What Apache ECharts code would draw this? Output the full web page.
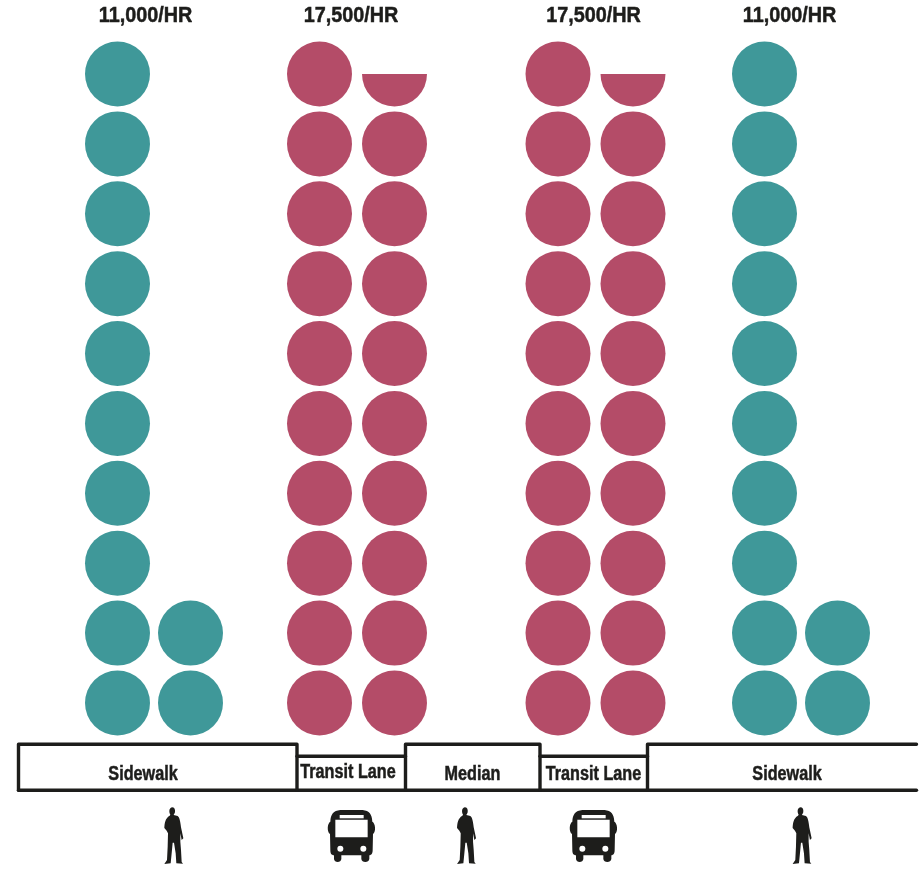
<!DOCTYPE html>
<html><head><meta charset="utf-8">
<style>html,body{margin:0;padding:0;background:#fff}#c{width:924px;height:870px}</style>
<script src="https://cdn.jsdelivr.net/npm/echarts@6/dist/echarts.min.js"></script>
</head><body><div id="c"></div>
<script>
// Data: circles in each column, bottom-up (0.5 = half circle)
const throughputLabels = ['11,000/HR','17,500/HR','17,500/HR','11,000/HR'];
const sidewalkLeftCounts = [10, 2];
const transitLeftCounts = [10, 9.5];
const transitRightCounts = [10, 9.5];
const sidewalkRightCounts = [10, 2];
const streetLabels = ['Sidewalk','Transit Lane','Median','Transit Lane','Sidewalk'];

const TEAL='#3f9899', ROSE='#b44c68', INK='#1d1d1b';
const FONT='"Liberation Sans",sans-serif';
const groups=[
 {counts:sidewalkLeftCounts,xs:[117.5,190.5],color:TEAL,labelX:145.5},
 {counts:transitLeftCounts,xs:[319.5,394.5],color:ROSE,labelX:351},
 {counts:transitRightCounts,xs:[558,633],color:ROSE,labelX:593.5},
 {counts:sidewalkRightCounts,xs:[764.5,837.5],color:TEAL,labelX:789.5}
];
function build(g){
 const out=[];
 g.counts.forEach((n,c)=>{
  for(let r=0;r<Math.ceil(n);r++){ out.push([g.xs[c],r,Math.min(1,n-r)]); }
 });
 return out;
}
const R=32.5;
function renderCircle(params,api){
 const p=api.coord([api.value(0),api.value(1)]);
 const frac=api.value(2);
 const color=api.visual('color');
 if(frac>=1) return {type:'circle',shape:{cx:p[0],cy:p[1],r:R},style:{fill:color}};
 return {type:'sector',shape:{cx:p[0],cy:p[1],r:R,r0:0,startAngle:0,endAngle:Math.PI,clockwise:true},style:{fill:color}};
}
// street profile
const T=744.3,S=756.3,B=790.3;
const xL=18.5,x1=297,x2=405.5,x3=540,x4=647.5,xR=916.5;
const line=(pts)=>({type:'polyline',shape:{points:pts},style:{stroke:INK,lineWidth:3.4,fill:null,lineJoin:'round',lineCap:'round'},silent:true});
const streetCenters=[[143,774.5],[348,772.8],[472.5,774.5],[593.5,774.5],[787,774.5]];
const gfx=[
 line([[xL,B],[xL,T],[x1,T],[x1,S],[x2,S],[x2,T],[x3,T],[x3,S],[x4,S],[x4,T],[xR,T]]),
 line([[xL,B],[xR,B]]),
 line([[x1,S],[x1,B]]),line([[x2,S],[x2,B]]),line([[x3,S],[x3,B]]),line([[x4,S],[x4,B]])
];
streetLabels.forEach((t,i)=>gfx.push({type:'text',x:streetCenters[i][0],y:streetCenters[i][1],scaleX:.83,
 style:{text:t,fill:INK,stroke:INK,lineWidth:.5,font:'bold 19.5px '+FONT,align:'center',verticalAlign:'middle'}}));
groups.forEach((g,i)=>gfx.push({type:'text',x:g.labelX,y:16,scaleX:.9,
 style:{text:throughputLabels[i],fill:INK,stroke:INK,lineWidth:.5,font:'bold 22px '+FONT,align:'center',verticalAlign:'middle'}}));

const personPath='M51 22C58 22 61 28 60 35C60 39 57 42 56 45L68 48C74 52 76 66 78 82L85 115L80 120L76 100L76 125L78 150L80 186L84 191L64 190L62 160L57 128L53 128L50 160L47 190L28 192L36 180L38 140L39 100L35 92L28 84C29 70 30 55 44 47L46 44C42 38 41 24 51 22Z';
const busBody='M55 15L122 15C142 17 150 28 151 50C160 54 163 80 153 87L152 135C152 146 148 150 142 151L142 162C141 174 119 174 118 162L118 151L58 151L58 162C57 174 37 174 36 162L36 151C28 150 25 146 25 135L24 87C14 80 16 54 25 50C26 28 34 17 55 15Z';
function renderIcon(params,api){
 const x=api.value(0), y=api.value(1), kind=api.value(2);
 if(kind===0) return {type:'path',x:x,y:y,scaleX:1/3,scaleY:1/3,
   shape:{pathData:personPath},style:{fill:INK}};
 return {type:'group',x:x,y:y,scaleX:1/3,scaleY:1/3,children:[
  {type:'path',shape:{pathData:busBody},style:{fill:INK}},
  {type:'rect',shape:{x:53,y:30,width:72,height:10},style:{fill:'#fff'}},
  {type:'rect',shape:{x:40,y:44,width:97,height:53},style:{fill:'#fff'}},
  {type:'circle',shape:{cx:55,cy:131,r:9},style:{fill:'#fff'}},
  {type:'circle',shape:{cx:124,cy:131,r:9},style:{fill:'#fff'}}
 ]};
}
const iconData=[[155,800,0],[322,805,1],[447.7,800,0],[564,805,1],[783.3,800,0]];

const chart=echarts.init(document.getElementById('c'),null,{renderer:'canvas'});
chart.setOption({
 animation:false,backgroundColor:'#fff',
 grid:{left:0,right:0,top:74,bottom:167},
 xAxis:{type:'value',min:0,max:924,show:false},
 yAxis:{type:'value',min:0,max:9,show:false},
 series:groups.map(g=>({type:'custom',coordinateSystem:'cartesian2d',clip:false,
  itemStyle:{color:g.color},encode:{x:0,y:1},data:build(g),renderItem:renderCircle,silent:true}))
  .concat([{type:'custom',coordinateSystem:'none',data:iconData,renderItem:renderIcon,silent:true}]),
 graphic:gfx
});
</script></body></html>
